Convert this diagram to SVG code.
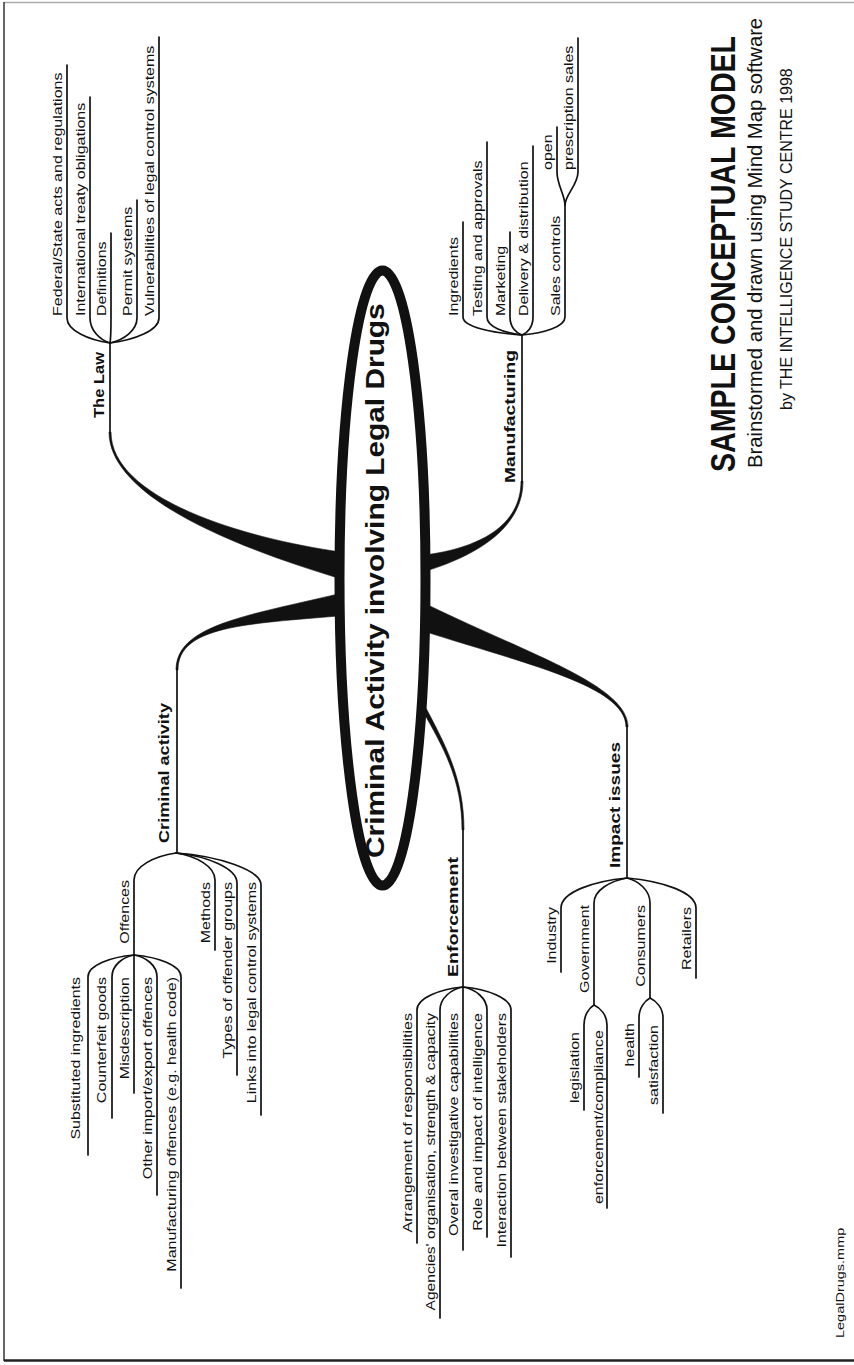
<svg xmlns="http://www.w3.org/2000/svg" width="854" height="1365" viewBox="0 0 854 1365">
<style>
.s{font-family:"Liberation Sans",Arial,sans-serif;font-size:13px;fill:#111}
.h{font-family:"Liberation Sans",Arial,sans-serif;font-size:15.5px;font-weight:bold;fill:#111}
.e{text-anchor:end}
.ln{fill:none;stroke:#111;stroke-width:1.7;stroke-linecap:round}
.br{fill:#111;stroke:#111;stroke-width:0.6;stroke-linejoin:round}
</style>
<rect width="854" height="1365" fill="#fff"/>
<g id="frame">
<line x1="4" y1="2.5" x2="854" y2="2.5" stroke="#aaa" stroke-width="1.5"/>
<line x1="4" y1="2" x2="4" y2="1361" stroke="#333" stroke-width="1.5"/>
<line x1="4" y1="1360.5" x2="854" y2="1360.5" stroke="#222" stroke-width="2.5"/>
</g>
<g id="connectors">
<path class="br" d="M342.8,552.3 C241.1,538.1 111,498 111,432 L109,432 C109,498 238.9,547.9 337.2,577.7 Z"/>
<path class="br" d="M337.2,594.2 C244.3,616.1 176,626 176,670 L178,670 C178,626 245.7,623.9 340.8,615.8 Z"/>
<path class="br" d="M423.3,555.2 C479.4,548.1 521,526 521,481 L523,481 C523,526 480.6,553.9 426.7,570.8 Z"/>
<path class="br" d="M429.8,605.9 C531.9,655.4 628,686 628,727 L626,727 C626,686 528.1,664.6 420.2,630.1 Z"/>
<path class="br" d="M425.9,708 C446.3,746.3 464,780 464,830 L462,830 C462,780 443.7,747.7 422.1,710 Z"/>
<!-- trunks -->
<path class="ln" d="M110,343 V433"/>
<path class="ln" d="M522,335 V482"/>
<path class="ln" d="M177,668 V853"/>
<path class="ln" d="M463,828 V987"/>
<path class="ln" d="M627,725 V878"/>
<!-- The Law fan -->
<path class="ln" d="M110,343 C88.5,340 67,330.5 67,318 V65"/>
<path class="ln" d="M110,343 C100,340 90,330.5 90,318 V97"/>
<path class="ln" d="M110,343 C110.5,340 111,330.5 111,318 V233"/>
<path class="ln" d="M110,343 C123.5,340 137,330.5 137,318 V200"/>
<path class="ln" d="M110,343 C134.5,340 159,330.5 159,318 V37"/>
<!-- Manufacturing fan -->
<path class="ln" d="M522,335 C492.5,333 463,327 463,317 V222"/>
<path class="ln" d="M522,335 C504.5,333 487,327 487,317 V142"/>
<path class="ln" d="M522,335 C516,333 510,327 510,317 V232"/>
<path class="ln" d="M522,335 C527.5,333 533,327 533,317 V146"/>
<path class="ln" d="M522,335 C543.5,333 565,327 565,317 V205"/>
<path class="ln" d="M565,205 C565,195 557,185 557,172 V127"/>
<path class="ln" d="M565,205 C565,195 578,185 578,172 V38"/>
<!-- Criminal activity fan -->
<path class="ln" d="M176,853 C155,856 134,866 134,880 V955"/>
<path class="ln" d="M176,853 C195.5,856 215,866 215,880 V950"/>
<path class="ln" d="M176,853 C206.5,856 237,868 237,883 V1075"/>
<path class="ln" d="M176,853 C218.5,856 261,870 261,885 V1115"/>
<path class="ln" d="M134,955 C111,957 88,965 88,977 V1155"/>
<path class="ln" d="M134,955 C123,957 112,965 112,977 V1118"/>
<path class="ln" d="M134,955 V1093"/>
<path class="ln" d="M134,955 C145.5,957 157,965 157,977 V1195"/>
<path class="ln" d="M134,955 C157.5,957 181,965 181,977 V1288"/>
<!-- Enforcement fan -->
<path class="ln" d="M463,987 C440,989 417,998 417,1010 V1243"/>
<path class="ln" d="M463,987 C451.5,989 440,998 440,1010 V1318"/>
<path class="ln" d="M463,987 V1250"/>
<path class="ln" d="M463,987 C475,989 487,998 487,1010 V1237"/>
<path class="ln" d="M463,987 C487,989 511,998 511,1010 V1257"/>
<!-- Impact issues fan -->
<path class="ln" d="M627,878 C594,881 561,892 561,908 V972"/>
<path class="ln" d="M627,878 C610.5,881 594,890 594,903 V1005"/>
<path class="ln" d="M627,878 C638.5,881 650,890 650,903 V998"/>
<path class="ln" d="M627,878 C661.5,881 696,892 696,908 V978"/>
<path class="ln" d="M594,1005 C589,1008 584,1015 584,1025 V1110"/>
<path class="ln" d="M594,1005 C600.5,1008 607,1015 607,1025 V1208"/>
<path class="ln" d="M650,998 C644.5,1001 639,1008 639,1018 V1077"/>
<path class="ln" d="M650,998 C656.5,1001 663,1008 663,1018 V1113"/>
</g>
<g id="central">
<ellipse cx="382.5" cy="578" rx="43" ry="307.5" fill="none" stroke="#111" stroke-width="10"/>
<text transform="translate(384 858) rotate(-90) scale(1.195 1)" style="font-family:'Liberation Sans',Arial,sans-serif;font-size:25px;font-weight:bold;fill:#111">Criminal Activity involving Legal Drugs</text>
</g>
<g id="the-law">
<text class="h" transform="translate(104 418) rotate(-90)" textLength="66" lengthAdjust="spacingAndGlyphs">The Law</text>
<text class="s" transform="translate(62 316) rotate(-90) scale(1.23 1)">Federal/State acts and regulations</text>
<text class="s" transform="translate(85 316) rotate(-90) scale(1.23 1)">International treaty obligations</text>
<text class="s" transform="translate(106 316) rotate(-90) scale(1.23 1)">Definitions</text>
<text class="s" transform="translate(132 316) rotate(-90) scale(1.23 1)">Permit systems</text>
<text class="s" transform="translate(154 316) rotate(-90) scale(1.23 1)">Vulnerabilities of legal control systems</text>
</g>
<g id="manufacturing">
<text class="h" transform="translate(515 483) rotate(-90)" textLength="133" lengthAdjust="spacingAndGlyphs">Manufacturing</text>
<text class="s" transform="translate(458 316) rotate(-90) scale(1.23 1)">Ingredients</text>
<text class="s" transform="translate(482 316) rotate(-90) scale(1.23 1)">Testing and approvals</text>
<text class="s" transform="translate(505 316) rotate(-90) scale(1.23 1)">Marketing</text>
<text class="s" transform="translate(528 316) rotate(-90) scale(1.23 1)">Delivery &amp; distribution</text>
<text class="s" transform="translate(560 316) rotate(-90) scale(1.23 1)">Sales controls</text>
<text class="s" transform="translate(552 170) rotate(-90) scale(1.23 1)">open</text>
<text class="s" transform="translate(573 170) rotate(-90) scale(1.23 1)">prescription sales</text>
</g>
<g id="criminal-activity">
<text class="h" transform="translate(169 843) rotate(-90)" textLength="140" lengthAdjust="spacingAndGlyphs">Criminal activity</text>
<text class="s e" transform="translate(129 880) rotate(-90) scale(1.23 1)">Offences</text>
<text class="s e" transform="translate(210 882) rotate(-90) scale(1.23 1)">Methods</text>
<text class="s e" transform="translate(232 882) rotate(-90) scale(1.23 1)">Types of offender groups</text>
<text class="s e" transform="translate(256 882) rotate(-90) scale(1.23 1)">Links into legal control systems</text>
<text class="s e" transform="translate(80 977) rotate(-90) scale(1.23 1)">Substituted ingredients</text>
<text class="s e" transform="translate(106 977) rotate(-90) scale(1.23 1)">Counterfeit goods</text>
<text class="s e" transform="translate(129 977) rotate(-90) scale(1.23 1)">Misdescription</text>
<text class="s e" transform="translate(152 977) rotate(-90) scale(1.23 1)">Other import/export offences</text>
<text class="s e" transform="translate(176 977) rotate(-90) scale(1.23 1)">Manufacturing offences (e.g. health code)</text>
</g>
<g id="enforcement">
<text class="h" transform="translate(458 977) rotate(-90)" textLength="120" lengthAdjust="spacingAndGlyphs">Enforcement</text>
<text class="s e" transform="translate(412 1013) rotate(-90) scale(1.23 1)">Arrangement of responsibilities</text>
<text class="s e" transform="translate(435 1013) rotate(-90) scale(1.2 1)">Agencies' organisation, strength &amp; capacity</text>
<text class="s e" transform="translate(458 1013) rotate(-90) scale(1.23 1)">Overal investigative capabilities</text>
<text class="s e" transform="translate(482 1013) rotate(-90) scale(1.23 1)">Role and impact of intelligence</text>
<text class="s e" transform="translate(506 1013) rotate(-90) scale(1.23 1)">Interaction between stakeholders</text>
</g>
<g id="impact-issues">
<text class="h" transform="translate(620 868) rotate(-90)" textLength="126" lengthAdjust="spacingAndGlyphs">Impact issues</text>
<text class="s e" transform="translate(556 907) rotate(-90) scale(1.23 1)">Industry</text>
<text class="s e" transform="translate(589 905) rotate(-90) scale(1.23 1)">Government</text>
<text class="s e" transform="translate(645 905) rotate(-90) scale(1.23 1)">Consumers</text>
<text class="s e" transform="translate(691 907) rotate(-90) scale(1.23 1)">Retailers</text>
<text class="s e" transform="translate(579 1032) rotate(-90) scale(1.23 1)">legislation</text>
<text class="s e" transform="translate(603 1030) rotate(-90) scale(1.23 1)">enforcement/compliance</text>
<text class="s e" transform="translate(634 1023) rotate(-90) scale(1.23 1)">health</text>
<text class="s e" transform="translate(658 1025) rotate(-90) scale(1.23 1)">satisfaction</text>
</g>
<g id="title">
<text transform="translate(735 472) rotate(-90) scale(0.817 1)" style="font-family:'Liberation Sans',Arial,sans-serif;font-size:35px;font-weight:bold;fill:#111">SAMPLE CONCEPTUAL MODEL</text>
<text transform="translate(762 468) rotate(-90) scale(1.01 1)" style="font-family:'Liberation Sans',Arial,sans-serif;font-size:20px;fill:#111">Brainstormed and drawn using Mind Map software</text>
<text transform="translate(792 410) rotate(-90) scale(0.97 1)" style="font-family:'Liberation Sans',Arial,sans-serif;font-size:16.5px;fill:#111">by THE INTELLIGENCE STUDY CENTRE 1998</text>
</g>
<g id="filename">
<text transform="translate(844 1338) rotate(-90) scale(1.45 1)" style="font-family:'Liberation Sans',Arial,sans-serif;font-size:10px;fill:#111">LegalDrugs.mmp</text>
</g>
</svg>
